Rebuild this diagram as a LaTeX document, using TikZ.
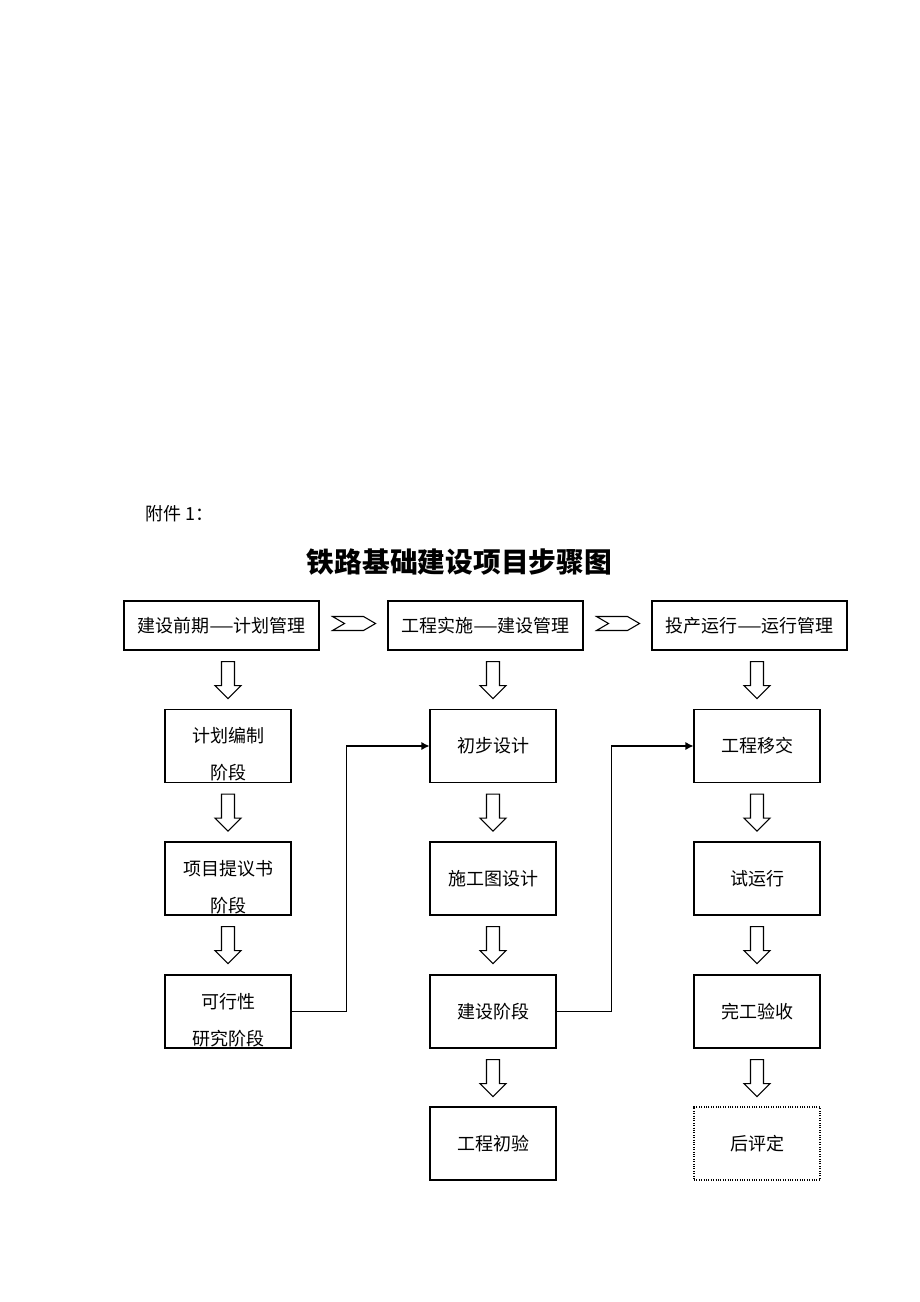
\documentclass[tikz,border=0pt]{standalone}
\usepackage{fontspec}
\setmainfont{Noto Sans CJK SC}
\usetikzlibrary{calc,arrows.meta}
\newcommand{\longdash}{\scalebox{1.55}[1]{—}}
\tikzset{
	headbox/.style={draw,line width=0.8pt,minimum width=146.25pt,minimum height=36.75pt,inner sep=0pt,font=\fontsize{13.5}{16}\selectfont},
	stepbox/.style={draw,line width=0.8pt,minimum width=94.5pt,minimum height=54.75pt,inner sep=0pt,font=\fontsize{13.5}{16}\selectfont},
	twoline/.style={align=center,inner sep=0pt,font=\fontsize{13.5}{27.75}\selectfont},
	link/.style={line width=0.8pt,-{Latex[length=6pt,width=6pt]}},
	hollow down/.pic={\draw[line width=0.8pt] (-6.5,0) -- (-6.5,24) -- (-13,24) -- (0,37) -- (13,24) -- (6.5,24) -- (6.5,0) -- cycle;},
	chevron/.pic={\draw[line width=0.8pt] (-21,-7) -- (10,-7) -- (22,0) -- (10,7) -- (-21,7) -- (-9,0) -- cycle;}
}
\begin{document}
\begin{tikzpicture}[x=0.75pt,y=-0.75pt]
		\useasboundingbox (0,0) rectangle (920,1302);
		% heading
		\node[anchor=west,font=\fontsize{13.5}{16}\selectfont] (annex) at (141,514) {附件 1：};
		\node[font=\fontsize{20.8}{24}\selectfont\bfseries] (title) at (459.5,562) {铁路基础建设项目步骤图};
		%
		\node[headbox] (pre) at (221.5,625.5) {建设前期\longdash 计划管理};
		\node[headbox] (build) at (485.5,625.5) {工程实施\longdash 建设管理};
		\node[headbox] (run) at (749.5,625.5) {投产运行\longdash 运行管理};
		\pic at ($(pre.east)!0.5!(build.west)+(0,-2)$) {chevron};
		\pic at ($(build.east)!0.5!(run.west)+(0,-2)$) {chevron};
		%
		\node[stepbox] (plan) at (228,746) {};
		\node[twoline] at ($(plan)+(0,8.5)$) {计划编制\\阶段};
		\node[stepbox] (proposal) at (228,878.5) {};
		\node[twoline] at ($(proposal)+(0,8.5)$) {项目提议书\\阶段};
		\node[stepbox] (feas) at (228,1011.5) {};
		\node[twoline] at ($(feas)+(0,8.5)$) {可行性\\研究阶段};
		%
		\node[stepbox] (prelim) at (493,746) {初步设计};
		\node[stepbox] (drawing) at (493,878.5) {施工图设计};
		\node[stepbox] (constr) at (493,1011.5) {建设阶段};
		\node[stepbox] (initacc) at (493,1143.5) {工程初验};
		%
		\node[stepbox] (handover) at (757,746) {工程移交};
		\node[stepbox] (trial) at (757,878.5) {试运行};
		\node[stepbox] (final) at (757,1011.5) {完工验收};
		\node[stepbox,densely dotted] (review) at (757,1143.5) {后评定};
		%
		\foreach \a/\b in {pre/plan,plan/proposal,proposal/feas,build/prelim,prelim/drawing,drawing/constr,constr/initacc,run/handover,handover/trial,trial/final,final/review}
			\pic at ($(\a.south -| \b)+(0,11)$) {hollow down};
		%
		\draw[link] (feas.east) -- ++(55,0) |- (prelim.west);
		\draw[link] (constr.east) -- ++(55,0) |- (handover.west);
\end{tikzpicture}
\end{document}
